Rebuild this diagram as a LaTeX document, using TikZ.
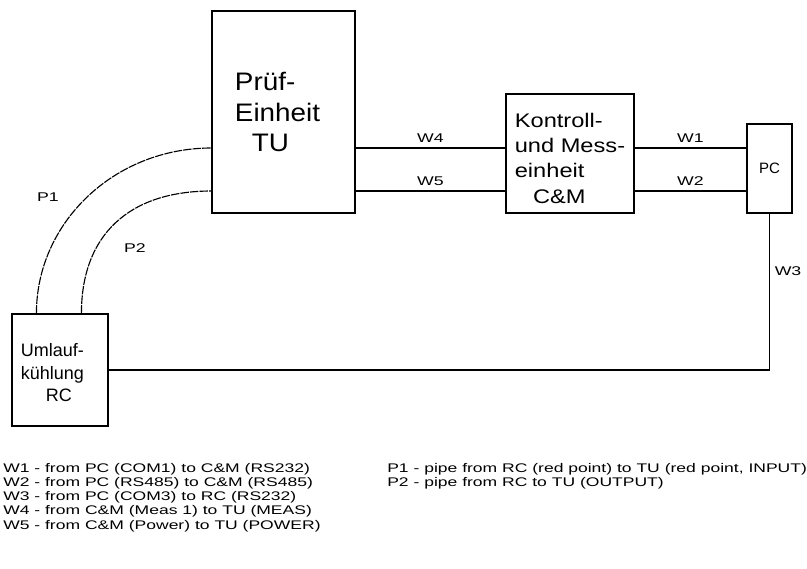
\documentclass[tikz,border=0pt]{standalone}
\usepackage{fontspec}
\setmainfont{Liberation Sans}
\newfontfamily\widesans[FakeStretch=1.4]{Liberation Sans}
\newfontfamily\boxsans[FakeStretch=1.1]{Liberation Sans}
\newfontfamily\cmsans[FakeStretch=1.2]{Liberation Sans}
\usetikzlibrary{calc,positioning}

\begin{document}
\begin{tikzpicture}[x=0.025cm, y=-0.025cm,
  every node/.style={font=\widesans\fontsize{9}{11}\selectfont},
  unit/.style={draw, line width=0.8pt, align=left, inner sep=0pt},
  wire/.style={line width=0.8pt},
  pipe/.style={line width=0.8pt, dash pattern=on 6pt off 0.8pt},
  legend/.style={align=left, inner sep=0pt, anchor=north west,
                 font=\widesans\fontsize{8.9}{10.1}\selectfont},
]

\useasboundingbox (0,0) rectangle (807,568);

%% Units
\node[unit, minimum width=3.575cm, minimum height=5.05cm,
      font=\boxsans\fontsize{18}{21.7}\selectfont] (tu) at (283.5,112)
  {Prüf-\\Einheit\kern8.5pt\\\hspace*{12pt}TU};
\node[unit, minimum width=3.2cm, minimum height=2.975cm,
      font=\cmsans\fontsize{14}{18}\selectfont] (cm) at (570,153.5)
  {\rule{0pt}{16.6pt}Kontroll-\\und Mess-\\einheit\\\hspace*{13pt}C\&M};
\node[unit, minimum width=1.125cm, minimum height=2.225cm,
      font=\fontsize{10.7}{13}\selectfont] (pc) at (769.5,168.5) {PC};
\node[unit, minimum width=2.4cm, minimum height=2.8cm,
      font=\fontsize{12.8}{16}\selectfont] (rc) at (60,370)
  {\rule{0pt}{13.5pt}Umlauf-\\kühlung\kern10.7pt\\\hspace*{17.8pt}RC};

%% Wire heights
\coordinate (ya) at (0,148);
\coordinate (yb) at (0,191);

%% Wires
\draw[wire] (tu.east |- ya) -- node[above] {W4} (cm.west |- ya);
\draw[wire] (tu.east |- yb) -- node[above] {W5} (cm.west |- yb);
\draw[wire] (cm.east |- ya) -- node[above] {W1} (pc.west |- ya);
\draw[wire] (cm.east |- yb) -- node[above] {W2} (pc.west |- yb);
\draw[wire] (pc.south) -- node[right, pos=0.37] {W3} (pc.south |- rc.east)
  -- (rc.east);

%% Pipes
\draw[pipe] ($(rc.north west)+(25,0)$) .. controls +(0,-91) and +(-97,0)
  .. (tu.west |- ya);
\draw[pipe] ($(rc.north west)+(70,0)$) .. controls +(0,-78) and +(-83,0)
  .. (tu.west |- yb);
\node (p1) at (48,197) {P1};
\node (p2) at (135,248) {P2};

%% Legend
\node[legend] (wlist) at (3,463)
  {W1 - from PC (COM1) to C\&M (RS232)\\
   W2 - from PC (RS485) to C\&M (RS485)\\
   W3 - from PC (COM3) to RC (RS232)\\
   W4 - from C\&M (Meas 1) to TU (MEAS)\\
   W5 - from C\&M (Power) to TU (POWER)};
\node[legend] (plist) at (387,463)
  {P1 - pipe from RC (red point) to TU (red point, INPUT)\\
   P2 - pipe from RC to TU (OUTPUT)};

\end{tikzpicture}
\end{document}
